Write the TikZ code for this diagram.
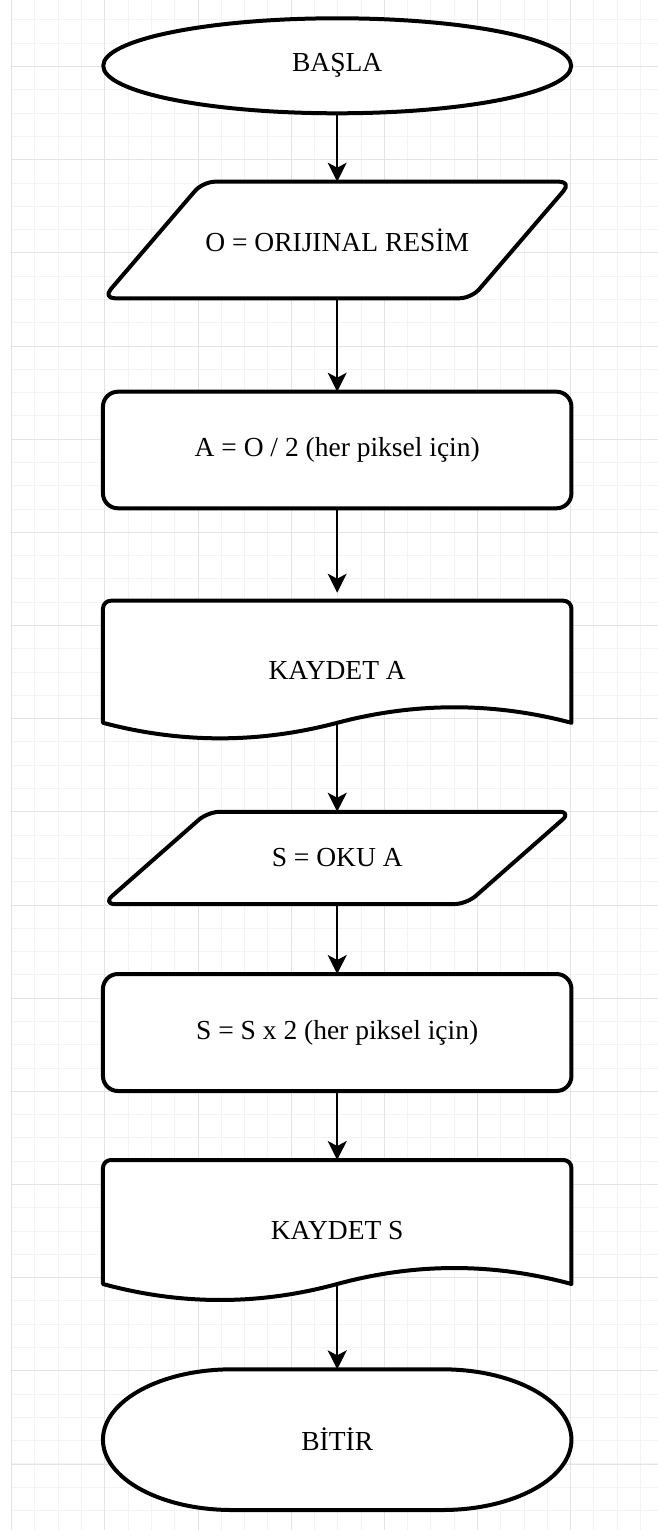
\documentclass[tikz,border=0pt]{standalone}
\usepackage{fontspec}
\setmainfont{Liberation Serif}
\usetikzlibrary{arrows.meta,shapes.geometric,calc}
\definecolor{gridminor}{HTML}{F3F3F3}
\definecolor{gridmajor}{HTML}{E3E3E3}
\pgfdeclarelayer{bg}
\pgfdeclarelayer{outlines}
\pgfsetlayers{bg,outlines,main}
\begin{document}
\begin{tikzpicture}[x=1pt,y=-1pt,
  shapeline/.style={line width=4pt, line join=round, fill=white},
  lbl/.style={font=\fontsize{27.5}{30}\selectfont, inner sep=0pt, outer sep=0pt},
  frame/.style={lbl, minimum width=468.5pt, draw=none},
  arr/.style={line width=2pt, -{Stealth[length=19pt,width=19pt,inset=5pt]}}]
\useasboundingbox (0,0) rectangle (658,1530);
\begin{pgfonlayer}{bg}
  \fill[white] (0,0) rectangle (658,1530);
  \foreach \i in {0,...,27} {
    \pgfmathsetmacro\xx{11.7+23.29*\i}
    \draw[gridminor, line width=1pt] (\xx,0) -- (\xx,1530);
  }
  \foreach \k in {0,...,64} {
    \pgfmathsetmacro\yy{20+23.29*\k}
    \draw[gridminor, line width=1pt] (11.7,\yy) -- (658,\yy);
  }
  \foreach \i in {0,...,6} {
    \pgfmathsetmacro\xx{11.7+93.16*\i}
    \draw[gridmajor, line width=1pt] (\xx,0) -- (\xx,1530);
  }
  \foreach \k in {0,...,15} {
    \pgfmathsetmacro\yy{66.6+93.16*\k}
    \draw[gridmajor, line width=1pt] (11.7,\yy) -- (658,\yy);
  }
\end{pgfonlayer}

% nodes
\node[ellipse, draw, shapeline, lbl, minimum width=468pt, minimum height=95pt] (s) at (337.2,65.8) {BAŞLA};
\node[frame, minimum height=116.6pt] (p1) at (337.2,240) {O = ORIJINAL RESİM};
\node[frame, draw, shapeline, rounded corners=15pt, minimum height=116.6pt] (r1) at (337.2,450) {A = O / 2 (her piksel için)};
\node[frame, minimum height=139.3pt] (d1) at (337.2,670.35) {KAYDET A};
\node[frame, minimum height=92.3pt] (p2) at (337.2,857.9) {S = OKU A};
\node[frame, draw, shapeline, rounded corners=15pt, minimum height=117pt] (r2) at (337.2,1032.5) {S = S x 2 (her piksel için)};
\node[frame, minimum height=141.7pt] (d2) at (337.2,1230.85) {KAYDET S};
\node[frame, minimum height=140.7pt] (e) at (337.2,1439.65) {BİTİR};

\coordinate (d1b) at ($(d1.south)+(0,-17.2)$);
\coordinate (d2b) at ($(d2.south)+(0,-17.7)$);

\begin{pgfonlayer}{outlines}
  % parallelograms
  \draw[shapeline, rounded corners=12pt] ($(p1.north west)+(100,0)$) -- (p1.north east) -- ($(p1.south east)+(-100,0)$) -- (p1.south west) -- cycle;
  \draw[shapeline, rounded corners=12pt] ($(p2.north west)+(105,0)$) -- (p2.north east) -- ($(p2.south east)+(-105,0)$) -- (p2.south west) -- cycle;
  % documents
  \draw[shapeline] ($(d1.south west)+(0,-17.2)$) [rounded corners=8pt] -- (d1.north west) -- (d1.north east) [sharp corners] -- ($(d1.south east)+(0,-17.2)$)
     .. controls +(-78.1,-20.7) and +(78.1,-20.7) .. (d1b)
     .. controls +(-78.1,20.7) and +(78.1,20.7) .. ($(d1.south west)+(0,-17.2)$) -- cycle;
  \draw[shapeline] ($(d2.south west)+(0,-17.7)$) [rounded corners=8pt] -- (d2.north west) -- (d2.north east) [sharp corners] -- ($(d2.south east)+(0,-17.7)$)
     .. controls +(-78.1,-21.3) and +(78.1,-21.3) .. (d2b)
     .. controls +(-78.1,21.3) and +(78.1,21.3) .. ($(d2.south west)+(0,-17.7)$) -- cycle;
  % terminator
  \draw[shapeline] ($(e.north)+(-105,0)$) -- ($(e.north)+(105,0)$)
     arc[start angle=90, end angle=-90, x radius=129.25pt, y radius=70.35pt]
     -- ($(e.south)+(-105,0)$)
     arc[start angle=270, end angle=90, x radius=129.25pt, y radius=70.35pt] -- cycle;
\end{pgfonlayer}

% connectors
\draw[arr] (s.south) -- (p1.north);
\draw[arr] (p1.south) -- (r1.north);
\draw[arr, shorten >=8pt] (r1.south) -- (d1.north);
\draw[arr] (d1b) -- (p2.north);
\draw[arr] (p2.south) -- (r2.north);
\draw[arr] (r2.south) -- (d2.north);
\draw[arr] (d2b) -- (e.north);
\end{tikzpicture}
\end{document}
